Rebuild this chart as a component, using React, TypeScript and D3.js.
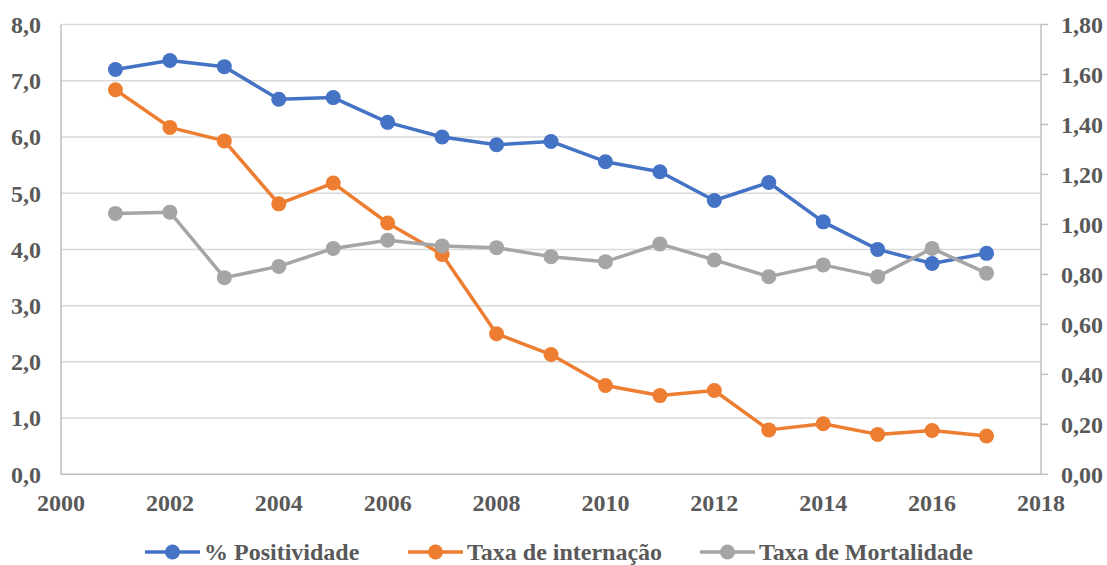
import React from "react";
import * as d3 from "d3";

const years = [2001, 2002, 2003, 2004, 2005, 2006, 2007, 2008, 2009, 2010, 2011, 2012, 2013, 2014, 2015, 2016, 2017];
const positividade = [7.2, 7.36, 7.25, 6.67, 6.7, 6.26, 6.0, 5.86, 5.92, 5.56, 5.38, 4.87, 5.19, 4.49, 4.0, 3.75, 3.93];
const internacao = [6.84, 6.17, 5.93, 4.81, 5.18, 4.47, 3.91, 2.5, 2.13, 1.58, 1.4, 1.49, 0.79, 0.9, 0.71, 0.78, 0.68];
const mortalidade = [1.044, 1.049, 0.787, 0.832, 0.904, 0.937, 0.914, 0.907, 0.871, 0.851, 0.922, 0.858, 0.791, 0.838, 0.791, 0.904, 0.805];

const xTicks = [2000, 2002, 2004, 2006, 2008, 2010, 2012, 2014, 2016, 2018];
const leftTicks = [0, 1, 2, 3, 4, 5, 6, 7, 8];
const rightTicks = [0, 0.2, 0.4, 0.6, 0.8, 1.0, 1.2, 1.4, 1.6, 1.8];

const W = 1107;
const H = 565;
const plot = { left: 61, right: 1041, top: 24.5, bottom: 474.3 };
const FONT = "'Liberation Serif', 'Times New Roman', serif";
const TEXT = "#595959";
const FS = 24;

const fmt = (d: number, digits: number) => d.toFixed(digits).replace(".", ",");

export default function App() {
  const x = d3.scaleLinear().domain([2000, 2018]).range([plot.left, plot.right]);
  const yL = d3.scaleLinear().domain([0, 8]).range([plot.bottom, plot.top]);
  const yR = d3.scaleLinear().domain([0, 1.8]).range([plot.bottom, plot.top]);

  const series = [
    { name: "% Positividade", values: positividade, y: yL, color: "#4472C4" },
    { name: "Taxa de internação", values: internacao, y: yL, color: "#ED7D31" },
    { name: "Taxa de Mortalidade", values: mortalidade, y: yR, color: "#A5A5A5" },
  ];

  const legendX = [145, 408, 700];

  return (
    <svg
      width={W}
      height={H}
      style={{ position: "absolute", left: 0, top: 0, background: "#fff" }}
      fontFamily={FONT}
      fontWeight="bold"
    >
      {/* horizontal gridlines */}
      {leftTicks.slice(1).map((t) => (
        <line key={"g" + t} x1={plot.left} x2={plot.right} y1={yL(t)} y2={yL(t)} stroke="#D9D9D9" strokeWidth={1.5} />
      ))}

      {/* axis lines */}
      <line x1={plot.left} x2={plot.left} y1={plot.top} y2={plot.bottom} stroke="#BFBFBF" strokeWidth={1.5} />
      <line x1={plot.right} x2={plot.right} y1={plot.top} y2={plot.bottom} stroke="#BFBFBF" strokeWidth={1.5} />
      <line x1={plot.left} x2={plot.right} y1={plot.bottom} y2={plot.bottom} stroke="#BFBFBF" strokeWidth={1.5} />

      {/* right axis tick marks */}
      {rightTicks.map((t) => (
        <line key={"rt" + t} x1={plot.right} x2={plot.right + 7} y1={yR(t)} y2={yR(t)} stroke="#BFBFBF" strokeWidth={1.5} />
      ))}

      {/* left tick labels */}
      {leftTicks.map((t) => (
        <text key={"l" + t} x={41} y={yL(t)} dy="0.35em" textAnchor="end" fontSize={FS} fill={TEXT}>
          {fmt(t, 1)}
        </text>
      ))}

      {/* right tick labels */}
      {rightTicks.map((t) => (
        <text key={"r" + t} x={1061} y={yR(t)} dy="0.35em" textAnchor="start" fontSize={FS} fill={TEXT}>
          {fmt(t, 2)}
        </text>
      ))}

      {/* x tick labels */}
      {xTicks.map((t) => (
        <text key={"x" + t} x={x(t)} y={511} textAnchor="middle" fontSize={FS} fill={TEXT}>
          {t}
        </text>
      ))}

      {/* series */}
      {series.map((s) => {
        const line = d3
          .line<number>()
          .x((_, i) => x(years[i]))
          .y((v) => s.y(v));
        return (
          <g key={s.name}>
            <path d={line(s.values) || ""} fill="none" stroke={s.color} strokeWidth={3.5} strokeLinejoin="round" />
            {s.values.map((v, i) => (
              <circle key={i} cx={x(years[i])} cy={s.y(v)} r={7.5} fill={s.color} />
            ))}
          </g>
        );
      })}

      {/* legend */}
      {series.map((s, i) => (
        <g key={"lg" + s.name} transform={`translate(${legendX[i]},552)`}>
          <line x1={0} x2={55} y1={0} y2={0} stroke={s.color} strokeWidth={3.5} />
          <circle cx={27.5} cy={0} r={7.5} fill={s.color} />
          <text x={59} y={0} dy="0.35em" fontSize={FS} fill={TEXT}>
            {s.name}
          </text>
        </g>
      ))}
    </svg>
  );
}
